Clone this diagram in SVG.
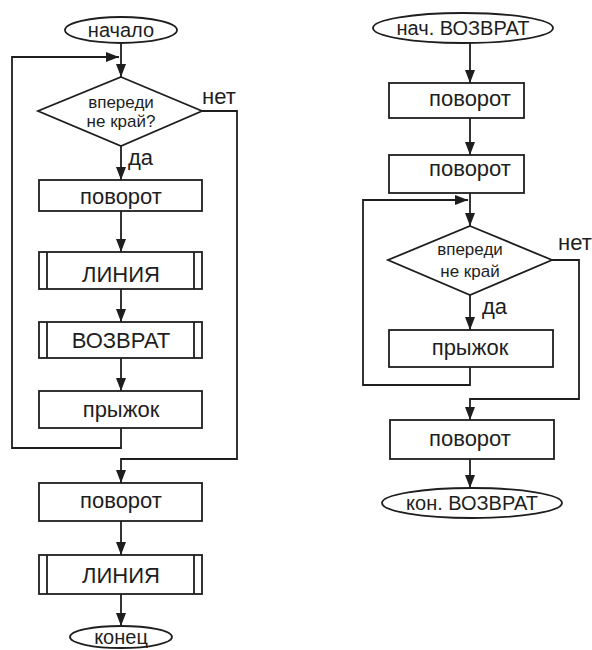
<svg xmlns="http://www.w3.org/2000/svg" width="592" height="650" viewBox="0 0 592 650">
<defs>
<marker id="ah" viewBox="0 0 13 10" refX="13" refY="5" markerWidth="13" markerHeight="10" markerUnits="userSpaceOnUse" orient="auto">
<path d="M0,0 L13,5 L0,10 z" fill="#1e1e1e"/>
</marker>
<style>
.s{fill:#fff;stroke:#1e1e1e;stroke-width:1.8}
.c{fill:none;stroke:#1e1e1e;stroke-width:1.8}
.a{fill:none;stroke:#1e1e1e;stroke-width:1.8;marker-end:url(#ah)}
text{font-family:"Liberation Sans",Arial,sans-serif;fill:#1e1e1e;text-anchor:middle}
.t{font-size:22px}
.e{font-size:20px}
.d{font-size:17px}
.l{font-size:22px;text-anchor:start}
</style>
</defs>
<rect width="592" height="650" fill="#fff"/>
<g id="connectors">
<line class="a" x1="121" y1="43" x2="121" y2="77"/>
<polyline class="a" points="121,428 121,448 12,448 12,57 119,57"/>
<line class="a" x1="121" y1="146" x2="121" y2="180"/>
<line class="a" x1="121" y1="211" x2="121" y2="252"/>
<line class="a" x1="121" y1="289" x2="121" y2="322"/>
<line class="a" x1="121" y1="358" x2="121" y2="391"/>
<polyline class="a" points="202,111 237,111 237,459 121,459 121,483"/>
<line class="a" x1="121" y1="521" x2="121" y2="555"/>
<line class="a" x1="121" y1="594" x2="121" y2="626"/>
<line class="a" x1="470" y1="43" x2="470" y2="83"/>
<line class="a" x1="470" y1="118" x2="470" y2="155"/>
<line class="a" x1="470" y1="193" x2="470" y2="226"/>
<polyline class="a" points="470,367 470,385 363,385 363,200 468,200"/>
<line class="a" x1="470" y1="295" x2="470" y2="330"/>
<polyline class="a" points="552,260 579,260 579,399 470,399 470,420"/>
<line class="a" x1="470" y1="459" x2="470" y2="488"/>
</g>
<g id="start1"><ellipse class="s" cx="121" cy="30" rx="56" ry="13"/><text class="e" x="121" y="37">начало</text></g>
<g id="cond1"><polygon class="s" points="121,77 202,111 121,146 38,111"/><text class="d" x="121" y="108">впереди</text><text class="d" x="121" y="127">не край?</text></g>
<g id="lbl1"><text class="l" x="202" y="104">нет</text><text class="l" x="128" y="165">да</text></g>
<g id="turn1"><rect class="s" x="39" y="180" width="163" height="31"/><text class="t" x="121" y="204">поворот</text></g>
<g id="line1"><rect class="s" x="39" y="252" width="163" height="37"/><line class="c" x1="47" y1="252" x2="47" y2="289"/><line class="c" x1="194" y1="252" x2="194" y2="289"/><text class="t" x="121" y="282">ЛИНИЯ</text></g>
<g id="ret1"><rect class="s" x="39" y="322" width="163" height="36"/><line class="c" x1="47" y1="322" x2="47" y2="358"/><line class="c" x1="194" y1="322" x2="194" y2="358"/><text class="t" x="121" y="348">ВОЗВРАТ</text></g>
<g id="jump1"><rect class="s" x="39" y="391" width="163" height="37"/><text class="t" x="121" y="417">прыжок</text></g>
<g id="turn2"><rect class="s" x="39" y="483" width="163" height="38"/><text class="t" x="121" y="508">поворот</text></g>
<g id="line2"><rect class="s" x="39" y="555" width="163" height="39"/><line class="c" x1="47" y1="555" x2="47" y2="594"/><line class="c" x1="194" y1="555" x2="194" y2="594"/><text class="t" x="121" y="583">ЛИНИЯ</text></g>
<g id="end1"><ellipse class="s" cx="121" cy="637" rx="51" ry="11"/><text class="e" x="121" y="644">конец</text></g>
<g id="start2"><ellipse class="s" cx="463" cy="28" rx="90" ry="15"/><text class="e" x="463" y="35">нач. ВОЗВРАТ</text></g>
<g id="turn3"><rect class="s" x="389" y="83" width="135" height="35"/><text class="t" x="470" y="106">поворот</text></g>
<g id="turn4"><rect class="s" x="389" y="155" width="135" height="38"/><text class="t" x="470" y="176">поворот</text></g>
<g id="cond2"><polygon class="s" points="470,226 552,260 470,295 388,260"/><text class="d" x="470" y="255">впереди</text><text class="d" x="470" y="277">не край</text></g>
<g id="lbl2"><text class="l" x="558" y="250">нет</text><text class="l" x="482" y="314">да</text></g>
<g id="jump2"><rect class="s" x="389" y="330" width="164" height="37"/><text class="t" x="470" y="355">прыжок</text></g>
<g id="turn5"><rect class="s" x="390" y="420" width="164" height="39"/><text class="t" x="470" y="446">поворот</text></g>
<g id="end2"><ellipse class="s" cx="472" cy="503" rx="90" ry="15"/><text class="e" x="472" y="510">кон. ВОЗВРАТ</text></g>
</svg>
